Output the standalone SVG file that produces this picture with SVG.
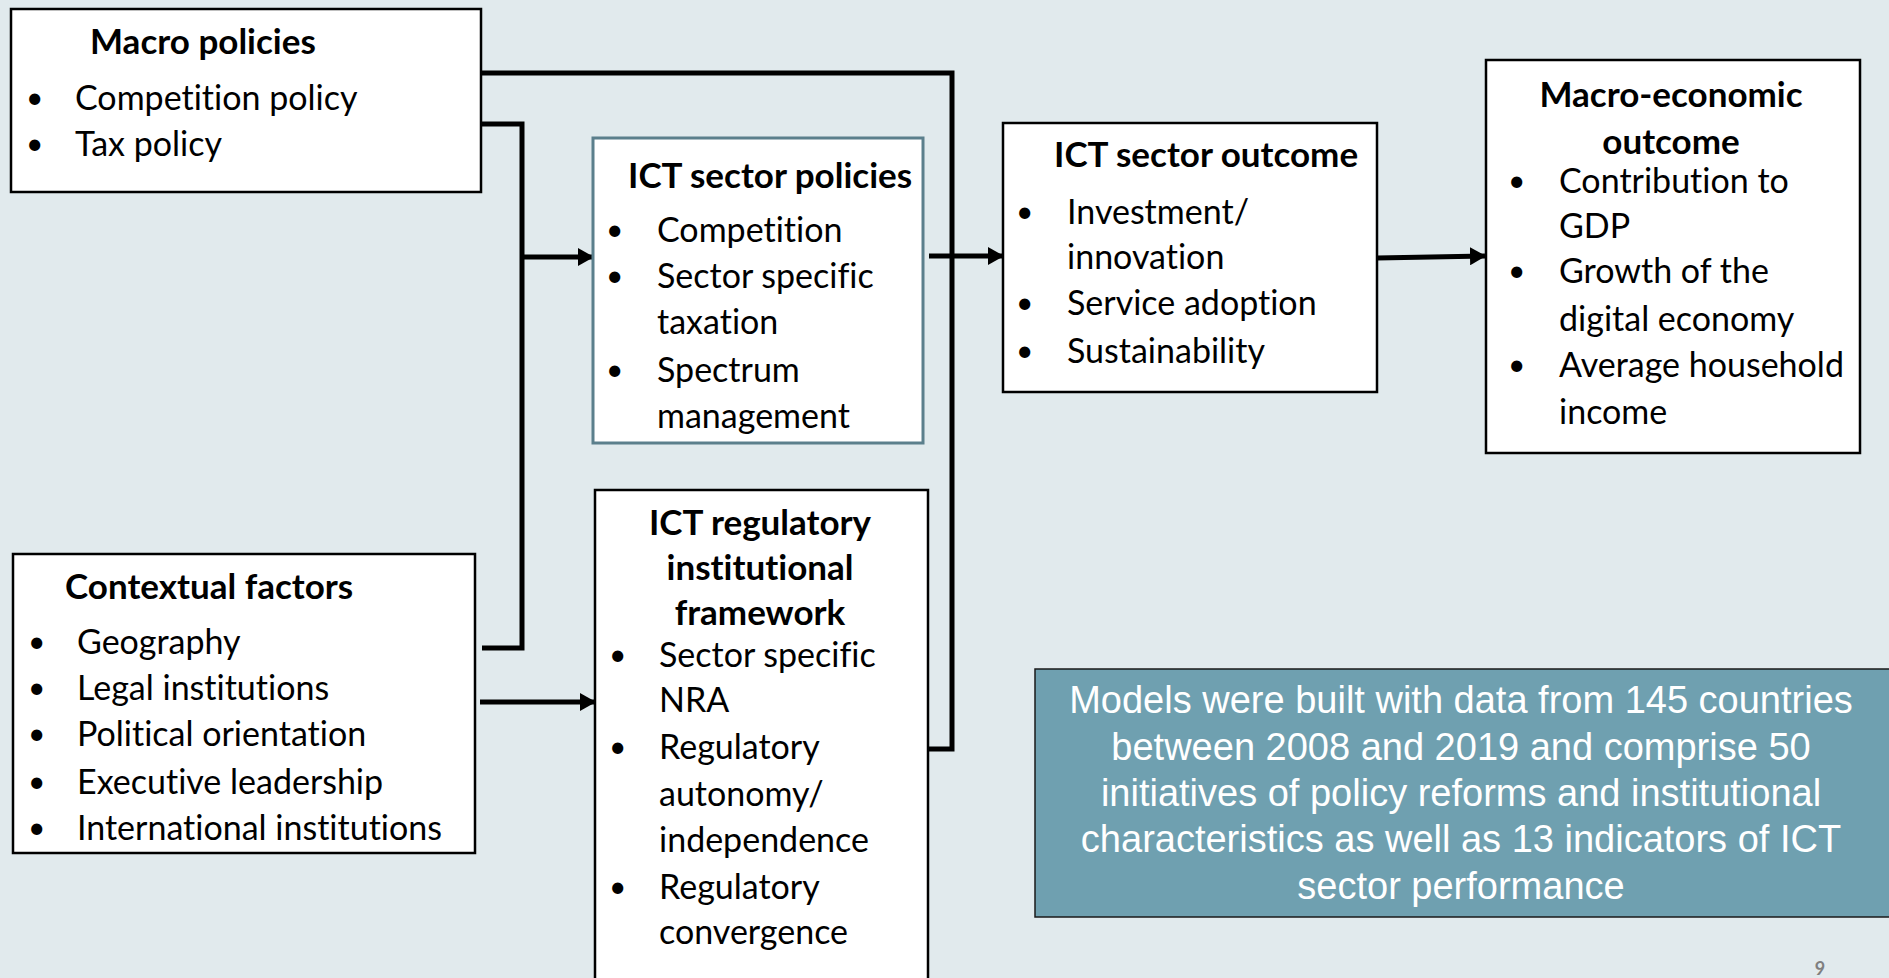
<svg xmlns="http://www.w3.org/2000/svg" width="1889" height="978" viewBox="0 0 1889 978">
<defs>
<marker id="arr" markerWidth="16" markerHeight="18" refX="15" refY="9" orient="auto" markerUnits="userSpaceOnUse" viewBox="0 0 16 18">
<path d="M0,0 L16,9 L0,18 z" fill="#000"/>
</marker>
<style>
.box{fill:#fff;stroke:#000;stroke-width:2.5}
.box2{fill:#fff;stroke:#5b7f8c;stroke-width:3}
.t{font-family:Lato,"Liberation Sans",sans-serif;font-size:34px;fill:#000;font-variant-ligatures:none}
.b{font-family:Lato,"Liberation Sans",sans-serif;font-size:30px;fill:#000}
.h{font-family:Lato,"Liberation Sans",sans-serif;font-size:35px;font-weight:bold;fill:#000;font-variant-ligatures:none}
.c{stroke:#000;stroke-width:5;fill:none}
.info{font-family:"Liberation Sans",Arial,sans-serif;font-size:38px;fill:#fff;text-anchor:middle}
</style>
</defs>
<rect width="1889" height="978" fill="#e1eaed"/>

<g id="connectors">
<polyline class="c" points="481,73 952,73 952,749 928,749"/>
<polyline class="c" points="481,124 522,124 522,648 482,648"/>
<line class="c" x1="522" y1="257" x2="593" y2="257" marker-end="url(#arr)"/>
<line class="c" x1="480" y1="702" x2="595" y2="702" marker-end="url(#arr)"/>
<line class="c" x1="929" y1="256" x2="1003" y2="256" marker-end="url(#arr)"/>
<line class="c" x1="1377" y1="258" x2="1485" y2="256" marker-end="url(#arr)"/>
</g>

<g id="macro-policies">
<rect class="box" x="11" y="9" width="470" height="183"/>
<text class="h" x="90" y="54">Macro policies</text>
<text class="b" x="26" y="108">•</text><text class="t" x="75" y="110">Competition policy</text>
<text class="b" x="26" y="154">•</text><text class="t" x="75" y="156">Tax policy</text>
</g>

<g id="ict-sector-policies">
<rect class="box2" x="593" y="138" width="330" height="305"/>
<text class="h" x="628" y="188">ICT sector policies</text>
<text class="b" x="606" y="240">•</text><text class="t" x="657" y="242">Competition</text>
<text class="b" x="606" y="286">•</text><text class="t" x="657" y="288">Sector specific</text>
<text class="t" x="657" y="334">taxation</text>
<text class="b" x="606" y="380">•</text><text class="t" x="657" y="382">Spectrum</text>
<text class="t" x="657" y="428">management</text>
</g>

<g id="ict-sector-outcome">
<rect class="box" x="1003" y="123" width="374" height="269"/>
<text class="h" x="1054" y="167">ICT sector outcome</text>
<text class="b" x="1016" y="222">•</text><text class="t" x="1067" y="224">Investment/</text>
<text class="t" x="1067" y="269">innovation</text>
<text class="b" x="1016" y="313">•</text><text class="t" x="1067" y="315">Service adoption</text>
<text class="b" x="1016" y="361">•</text><text class="t" x="1067" y="363">Sustainability</text>
</g>

<g id="macro-economic-outcome">
<rect class="box" x="1486" y="60" width="374" height="393"/>
<text class="h" x="1671" y="107" text-anchor="middle">Macro-economic</text>
<text class="h" x="1671" y="154" text-anchor="middle">outcome</text>
<text class="b" x="1508" y="191">•</text><text class="t" x="1559" y="193">Contribution to</text>
<text class="t" x="1559" y="238">GDP</text>
<text class="b" x="1508" y="281">•</text><text class="t" x="1559" y="283">Growth of the</text>
<text class="t" x="1559" y="331">digital economy</text>
<text class="b" x="1508" y="375">•</text><text class="t" x="1559" y="377">Average household</text>
<text class="t" x="1559" y="424">income</text>
</g>

<g id="contextual-factors">
<rect class="box" x="13" y="554" width="462" height="299"/>
<text class="h" x="65" y="599">Contextual factors</text>
<text class="b" x="28" y="652">•</text><text class="t" x="77" y="654">Geography</text>
<text class="b" x="28" y="698">•</text><text class="t" x="77" y="700">Legal institutions</text>
<text class="b" x="28" y="744">•</text><text class="t" x="77" y="746">Political orientation</text>
<text class="b" x="28" y="792">•</text><text class="t" x="77" y="794">Executive leadership</text>
<text class="b" x="28" y="838">•</text><text class="t" x="77" y="840">International institutions</text>
</g>

<g id="ict-regulatory-framework">
<rect class="box" x="595" y="490" width="333" height="500"/>
<text class="h" x="760" y="535" text-anchor="middle">ICT regulatory</text>
<text class="h" x="760" y="580" text-anchor="middle">institutional</text>
<text class="h" x="760" y="625" text-anchor="middle">framework</text>
<text class="b" x="609" y="665">•</text><text class="t" x="659" y="667">Sector specific</text>
<text class="t" x="659" y="712">NRA</text>
<text class="b" x="609" y="757">•</text><text class="t" x="659" y="759">Regulatory</text>
<text class="t" x="659" y="806">autonomy/</text>
<text class="t" x="659" y="852">independence</text>
<text class="b" x="609" y="897">•</text><text class="t" x="659" y="899">Regulatory</text>
<text class="t" x="659" y="944">convergence</text>
</g>

<g id="info-box">
<rect x="1035" y="669" width="856" height="248" fill="#6fa0b0" stroke="#1a1a1a" stroke-width="1.5"/>
<text class="info" x="1461" y="713">Models were built with data from 145 countries</text>
<text class="info" x="1461" y="760">between 2008 and 2019 and comprise 50</text>
<text class="info" x="1461" y="806">initiatives of policy reforms and institutional</text>
<text class="info" x="1461" y="852">characteristics as well as 13 indicators of ICT</text>
<text class="info" x="1461" y="899">sector performance</text>
</g>

<text x="1820" y="975" font-family="Lato,'Liberation Sans',sans-serif" font-size="18" font-weight="bold" fill="#7f7f7f" text-anchor="middle">9</text>
</svg>
